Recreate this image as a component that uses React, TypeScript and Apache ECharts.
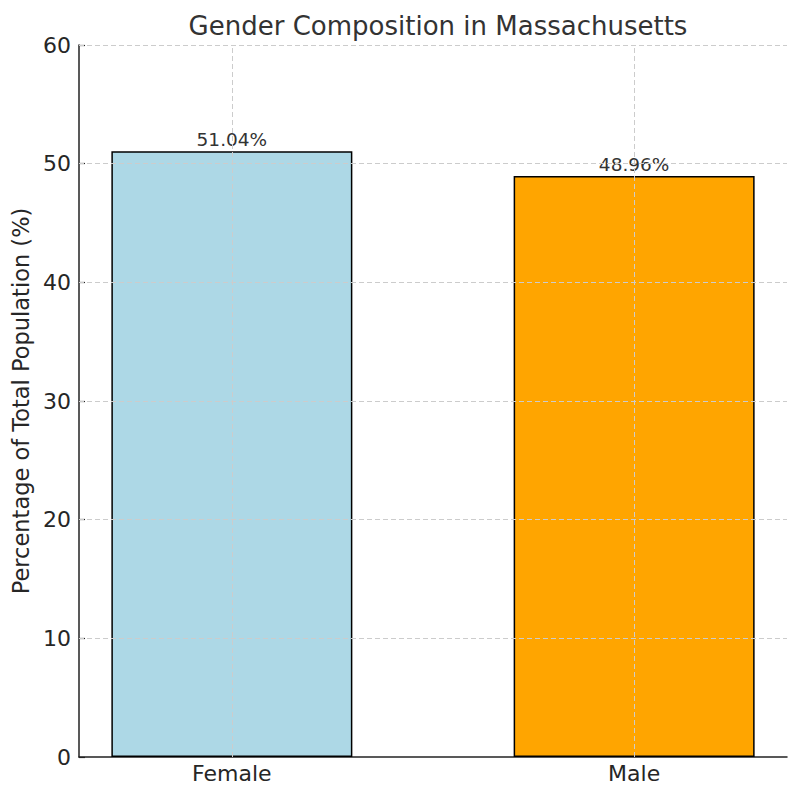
import React, { useEffect, useRef } from "react";
import * as echarts from "echarts";

const categories = ["Female", "Male"];
const values = [51.04, 48.96];
const barColors = ["#ADD8E6", "#FFA500"];
const yTicks = [0, 10, 20, 30, 40, 50, 60];
const titleText = "Gender Composition in Massachusetts";
const yName = "Percentage of Total Population (%)";

const FONT = "DejaVu Sans";

export default function App() {
  const ref = useRef<HTMLDivElement>(null);
  useEffect(() => {
    if (!ref.current) return;
    const chart = echarts.init(ref.current, undefined, { renderer: "svg" });
    const positions = categories.map((_, i) => i);
    const gridStyle = { color: "#cccccc", type: [5, 3] as any, width: 1 };
    chart.setOption({
      animation: false,
      backgroundColor: "#ffffff",
      textStyle: { fontFamily: FONT },
      title: {
        text: titleText,
        left: 433,
        textAlign: "center",
        top: 8,
        textStyle: { fontFamily: FONT, fontSize: 26, fontWeight: "normal", color: "#333333" },
      },
      grid: { left: 79, right: 13, top: 45, bottom: 43, containLabel: false },
      xAxis: {
        type: "value",
        min: -0.38,
        max: 1.38,
        axisLine: { show: true, onZero: false, lineStyle: { color: "#222222", width: 1.5 } },
        axisTick: { show: true, inside: true, length: 6, customValues: positions, lineStyle: { color: "#222222", width: 1.2 } },
        axisLabel: {
          show: true,
          customValues: positions,
          formatter: (v: number) => categories[Math.round(v)] ?? "",
          fontFamily: FONT,
          fontSize: 22,
          color: "#262626",
          margin: 5,
        },
        splitLine: { show: false },
      },
      yAxis: {
        type: "value",
        min: 0,
        max: 60,
        interval: 10,
        name: yName,
        nameLocation: "middle",
        nameGap: 44,
        nameTextStyle: { fontFamily: FONT, fontSize: 22.5, color: "#262626" },
        axisLine: { show: true, onZero: false, lineStyle: { color: "#222222", width: 1.5 } },
        axisTick: { show: true, inside: true, length: 6, lineStyle: { color: "#222222", width: 1.2 } },
        axisLabel: { fontFamily: FONT, fontSize: 22, color: "#262626", margin: 8 },
        splitLine: { show: false },
      },
      series: [
        {
          type: "bar",
          barWidth: 241,
          data: values.map((v, i) => ({
            value: [positions[i], v],
            itemStyle: { color: barColors[i], borderColor: "#000000", borderWidth: 1.5 },
          })),
          label: {
            show: true,
            position: "top",
            distance: 2,
            formatter: (p: any) => p.value[1].toFixed(2) + "%",
            fontFamily: FONT,
            fontSize: 18.5,
            color: "#333333",
          },
          markLine: {
            silent: true,
            symbol: "none",
            label: { show: false },
            lineStyle: gridStyle,
            emphasis: { disabled: true },
            data: [
              ...positions.map((p) => ({ xAxis: p })),
              ...yTicks.filter((t) => t > 0).map((t) => ({ yAxis: t })),
            ],
          },
        },
      ],
    });
    return () => chart.dispose();
  }, []);
  return <div ref={ref} style={{ width: 800, height: 800, margin: -8 }} />;
}
